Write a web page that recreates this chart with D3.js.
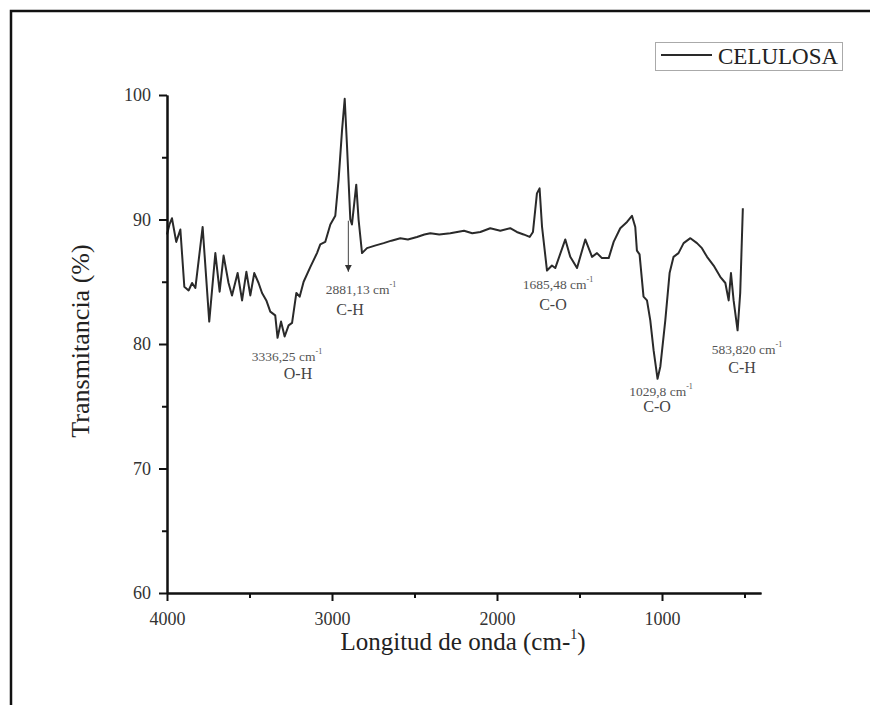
<!DOCTYPE html>
<html>
<head>
<meta charset="utf-8">
<title>celulosa FTIR</title>
<script src="https://cdn.jsdelivr.net/npm/d3@7"></script>
<style>
  body{ margin:0; background:#fff; }
  svg text{ font-family:"Liberation Serif","DejaVu Serif",serif; }
</style>
</head>
<body>
<div id="container"></div>
<script>
// wavenumber (cm-1) and transmittance (%)
var wavenumber = [4000,3985,3970,3944,3919,3895,3869,3848,3828,3784,3744,3707,3681,3657,3627,3606,3572,3545,3519,3495,3471,3445,3424,3398,3374,3344,3330,3309,3287,3263,3242,3216,3196,3172,3131,3091,3071,3041,3010,2980,2960,2939,2923,2909,2889,2879,2853,2839,2818,2788,2740,2687,2640,2586,2540,2485,2440,2404,2350,2283,2200,2150,2101,2041,1980,1920,1880,1839,1802,1782,1758,1742,1727,1697,1667,1647,1586,1556,1515,1465,1424,1394,1364,1323,1293,1253,1212,1182,1162,1152,1136,1112,1091,1071,1051,1027,1010,980,954,930,900,869,828,788,758,727,687,647,616,606,596,582,566,542,526,510];
var transmit   = [88.8,89.6,90.1,88.2,89.2,84.6,84.3,84.9,84.5,89.4,81.8,87.3,84.2,87.1,84.9,83.9,85.7,83.5,85.8,83.9,85.7,84.9,84.1,83.5,82.6,82.3,80.5,81.8,80.6,81.5,81.7,84.1,83.8,85.0,86.2,87.3,88.0,88.2,89.6,90.3,93.2,97.2,99.7,95.9,90.0,89.6,92.8,90.0,87.3,87.7,87.9,88.1,88.3,88.5,88.4,88.6,88.8,88.9,88.8,88.9,89.1,88.9,89.0,89.3,89.1,89.3,89.0,88.8,88.6,89.0,92.1,92.5,89.4,85.9,86.3,86.1,88.4,87.0,86.1,88.4,87.0,87.3,86.9,86.9,88.2,89.3,89.8,90.3,89.4,87.5,87.2,83.8,83.5,81.9,79.5,77.2,78.2,81.9,85.7,87.0,87.3,88.1,88.5,88.1,87.7,87.0,86.3,85.4,84.9,84.2,83.5,85.7,83.5,81.1,84.1,90.9];

var xTicks = [4000,3000,2000,1000];
var xMinor = [3500,2500,1500,500];
var yTicks = [60,70,80,90,100];
var yMinor = [65,75,85,95];

var seriesName = "CELULOSA";

// peak labels: position in data units (wavenumber, %)
var annotations = [
  {num:"3336,25 cm", grp:"O-H", wn:3273, v:78.6, gwn:3206, gv:77.2},
  {num:"2881,13 cm", grp:"C-H", wn:2824, v:84.0, gwn:2891, gv:82.3},
  {num:"1685,48 cm", grp:"C-O", wn:1630, v:84.4, gwn:1661, gv:82.7},
  {num:"1029,8 cm",  grp:"C-O", wn:1006, v:75.8, gwn:1030, gv:74.5},
  {num:"583,820 cm", grp:"C-H", wn:485,  v:79.2, gwn:515,  gv:77.7}
];
var arrow = {wn:2901, from:89.9, to:85.8};

var W = 870, H = 705;
var svg = d3.select("#container").append("svg")
    .attr("width", W).attr("height", H)
    .style("display","block");

// outer frame (left + top only, like the picture)
svg.append("path")
    .attr("d", "M11," + H + "V11H" + W)
    .attr("fill","none").attr("stroke","#111").attr("stroke-width",2.5);

var xScale = d3.scaleLinear().domain([4000,400]).range([167,761]);
var yScale = d3.scaleLinear().domain([60,100]).range([593,95]);

var data = wavenumber.map(function(w,i){ return {w:w, v:transmit[i]}; });

var line = d3.line()
    .x(function(d){ return xScale(d.w); })
    .y(function(d){ return yScale(d.v); });

svg.append("path")
    .datum(data)
    .attr("d", line)
    .attr("fill","none")
    .attr("stroke","#2a2a2a")
    .attr("stroke-width",2)
    .attr("stroke-linejoin","round");

// axes
var xAxis = d3.axisBottom(xScale).tickValues(xTicks).tickSize(8).tickPadding(11).tickSizeOuter(0).tickFormat(d3.format("d"));
var xAxisMinor = d3.axisBottom(xScale).tickValues(xMinor).tickSize(5).tickSizeOuter(0).tickFormat("");
var yAxis = d3.axisLeft(yScale).tickValues(yTicks).tickSize(8).tickPadding(8).tickSizeOuter(0);
var yAxisMinor = d3.axisLeft(yScale).tickValues(yMinor).tickSize(5).tickSizeOuter(0).tickFormat("");

svg.append("g").attr("class","ax").attr("transform","translate(0,593)").call(xAxisMinor);
svg.append("g").attr("class","ax").attr("transform","translate(0,593)").call(xAxis);
svg.append("g").attr("class","ax").attr("transform","translate(167,0)").call(yAxisMinor);
svg.append("g").attr("class","ax").attr("transform","translate(167,0)").call(yAxis);

svg.selectAll(".ax")
    .attr("font-family","Liberation Serif")
    .attr("font-size",18);
svg.selectAll(".ax .domain").attr("stroke","#111").attr("stroke-width",2);
svg.selectAll(".ax .tick line").attr("stroke","#111").attr("stroke-width",2);
svg.selectAll(".ax .tick text").attr("fill","#333");

// axis titles
var xt = svg.append("text")
    .attr("x", 463).attr("y", 650)
    .attr("text-anchor","middle")
    .attr("fill","#222")
    .style("font-size","25px");
xt.append("tspan").text("Longitud de onda (cm-");
xt.append("tspan").text("1").style("font-size","14px").attr("dy",-11);
xt.append("tspan").text(")").attr("dy",11);

svg.append("text")
    .attr("transform","translate(89,341) rotate(-90)")
    .attr("text-anchor","middle")
    .attr("fill","#222")
    .style("font-size","26px")
    .text("Transmitancia (%)");

// legend
svg.append("rect")
    .attr("x",655.5).attr("y",42.5).attr("width",187).attr("height",28)
    .attr("fill","none").attr("stroke","#aaa").attr("stroke-width",1);
svg.append("line")
    .attr("x1",661).attr("x2",712).attr("y1",55).attr("y2",55)
    .attr("stroke","#2a2a2a").attr("stroke-width",2);
svg.append("text")
    .attr("x",718).attr("y",64)
    .attr("fill","#222")
    .style("font-size","23px")
    .text(seriesName);

// arrow to the C-H band
svg.append("defs").append("marker")
    .attr("id","head").attr("viewBox","0 0 10 10")
    .attr("refX",10).attr("refY",5)
    .attr("markerWidth",7).attr("markerHeight",9)
    .attr("markerUnits","userSpaceOnUse")
    .attr("orient","auto")
  .append("path").attr("d","M0,0L10,5L0,10Z").attr("fill","#333");

svg.append("line")
    .attr("x1", xScale(arrow.wn)).attr("x2", xScale(arrow.wn))
    .attr("y1", yScale(arrow.from)).attr("y2", yScale(arrow.to))
    .attr("stroke","#444").attr("stroke-width",1)
    .attr("marker-end","url(#head)");

// peak labels
annotations.forEach(function(a){
  var t = svg.append("text")
      .attr("x", xScale(a.wn)).attr("y", yScale(a.v))
      .attr("text-anchor","middle")
      .attr("fill","#555")
      .style("font-size","13.5px");
  t.append("tspan").text(a.num);
  t.append("tspan").text("-1").style("font-size","8px").attr("dy",-7);

  svg.append("text")
      .attr("x", xScale(a.gwn)).attr("y", yScale(a.gv))
      .attr("text-anchor","middle")
      .attr("fill","#444")
      .style("font-size","16px")
      .text(a.grp);
});
</script>
</body>
</html>
